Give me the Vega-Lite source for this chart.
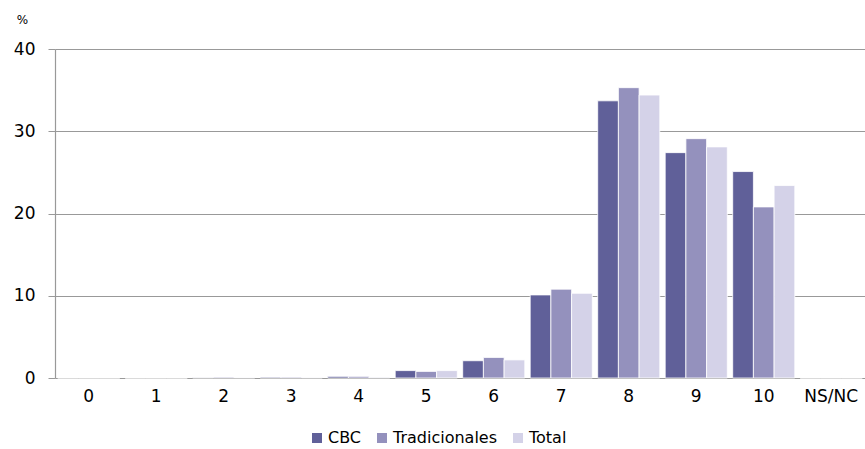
{
  "$schema": "https://vega.github.io/schema/vega-lite/v6.json",
  "autosize": "none",
  "width": 810,
  "height": 329,
  "padding": {"left": 55, "top": 49, "right": 0, "bottom": 71},
  "background": "white",
  "config": {
    "font": "DejaVu Sans",
    "view": {"stroke": null}
  },
  "data": {
    "values": [
      {"nota": "0", "grupo": "CBC", "pct": 0},
      {"nota": "0", "grupo": "Tradicionales", "pct": 0},
      {"nota": "0", "grupo": "Total", "pct": 0},
      {"nota": "1", "grupo": "CBC", "pct": 0},
      {"nota": "1", "grupo": "Tradicionales", "pct": 0},
      {"nota": "1", "grupo": "Total", "pct": 0},
      {"nota": "2", "grupo": "CBC", "pct": 0.05},
      {"nota": "2", "grupo": "Tradicionales", "pct": 0.1},
      {"nota": "2", "grupo": "Total", "pct": 0.05},
      {"nota": "3", "grupo": "CBC", "pct": 0.1},
      {"nota": "3", "grupo": "Tradicionales", "pct": 0.1},
      {"nota": "3", "grupo": "Total", "pct": 0.05},
      {"nota": "4", "grupo": "CBC", "pct": 0.2},
      {"nota": "4", "grupo": "Tradicionales", "pct": 0.2},
      {"nota": "4", "grupo": "Total", "pct": 0.1},
      {"nota": "5", "grupo": "CBC", "pct": 0.9},
      {"nota": "5", "grupo": "Tradicionales", "pct": 0.8},
      {"nota": "5", "grupo": "Total", "pct": 0.9},
      {"nota": "6", "grupo": "CBC", "pct": 2.1},
      {"nota": "6", "grupo": "Tradicionales", "pct": 2.5},
      {"nota": "6", "grupo": "Total", "pct": 2.2},
      {"nota": "7", "grupo": "CBC", "pct": 10.1},
      {"nota": "7", "grupo": "Tradicionales", "pct": 10.8},
      {"nota": "7", "grupo": "Total", "pct": 10.3},
      {"nota": "8", "grupo": "CBC", "pct": 33.7},
      {"nota": "8", "grupo": "Tradicionales", "pct": 35.3},
      {"nota": "8", "grupo": "Total", "pct": 34.4},
      {"nota": "9", "grupo": "CBC", "pct": 27.4},
      {"nota": "9", "grupo": "Tradicionales", "pct": 29.1},
      {"nota": "9", "grupo": "Total", "pct": 28.1},
      {"nota": "10", "grupo": "CBC", "pct": 25.1},
      {"nota": "10", "grupo": "Tradicionales", "pct": 20.8},
      {"nota": "10", "grupo": "Total", "pct": 23.4},
      {"nota": "NS/NC", "grupo": "CBC", "pct": 0},
      {"nota": "NS/NC", "grupo": "Tradicionales", "pct": 0},
      {"nota": "NS/NC", "grupo": "Total", "pct": 0}
    ]
  },
  "mark": {"type": "bar", "stroke": "white", "strokeWidth": 0.8},
  "encoding": {
    "x": {
      "field": "nota",
      "type": "ordinal",
      "sort": ["0", "1", "2", "3", "4", "5", "6", "7", "8", "9", "10", "NS/NC"],
      "scale": {"paddingInner": 0.08, "paddingOuter": 0.04},
      "axis": {
        "title": null,
        "labelAngle": 0,
        "labelFontSize": 17,
        "labelColor": "#000000",
        "labelPadding": 18,
        "labelBaseline": "middle",
        "ticks": false,
        "domain": false
      }
    },
    "xOffset": {
      "field": "grupo",
      "sort": ["CBC", "Tradicionales", "Total"]
    },
    "y": {
      "field": "pct",
      "type": "quantitative",
      "scale": {"domain": [0, 40]},
      "axis": {
        "title": "%",
        "titleAngle": 0,
        "titleFontSize": 12,
        "titleFontWeight": "normal",
        "titleX": -33,
        "titleY": -23,
        "titleAlign": "center",
        "values": [0, 10, 20, 30, 40],
        "labelOverlap": false,
        "labelFontSize": 17,
        "labelColor": "#000000",
        "labelPadding": 13,
        "tickSize": 7,
        "tickColor": "#999999",
        "domainColor": "#999999",
        "gridColor": "#999999",
        "gridWidth": 1.2,
        "domainWidth": 1.2
      }
    },
    "color": {
      "field": "grupo",
      "type": "nominal",
      "sort": ["CBC", "Tradicionales", "Total"],
      "scale": {
        "domain": ["CBC", "Tradicionales", "Total"],
        "range": ["#606099", "#9491bd", "#d4d2e8"]
      },
      "legend": {
        "title": null,
        "orient": "none",
        "direction": "horizontal",
        "legendX": 254,
        "legendY": 381,
        "symbolType": "square",
        "symbolSize": 100,
        "symbolStrokeWidth": 0,
        "labelFontSize": 16,
        "labelColor": "#000000",
        "labelOffset": 3,
        "columnPadding": 12
      }
    }
  }
}
